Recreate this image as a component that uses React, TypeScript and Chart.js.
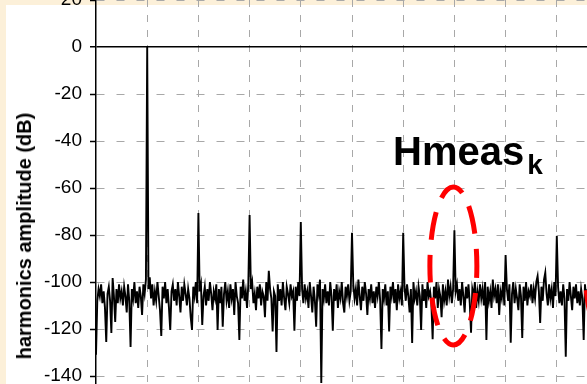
import React, { useEffect, useRef } from 'react';
import { Chart, registerables } from 'chart.js';

Chart.register(...registerables);

// Spectrum bins: harmonic-order spacing between consecutive bins
const BIN_STEP = 0.025;

// Measured amplitude per bin (dB), bins 0..400 (harmonic order 0..10), 20 bins per row
const AMPLITUDE_DB: number[] = [
  -131, -108, -103, -106, -101, -109, -104, -111, -125.5, -105, -102, -108, -121.7, -98.3, -106, -117, -103, -109, -101, -107,
  -104, -110, -102, -106, -113, -101, -108, -127.6, -103, -107, -100, -109, -104, -111, -102, -106, -114, -101, -105, -99,
  0, -103, -98, -107, -101, -110, -104, -108, -100, -106, -112, -123, -102, -107, -100, -109, -103, -111, -120.4, -104,
  -101, -108, -103, -110, -100, -106, -113, -102, -108, -101, -105, -110, -103, -107, -115, -120.4, -102, -106, -100, -109,
  -70.6, -104, -101, -118.3, -106, -102, -110, -103, -108, -100, -105, -112, -104, -107, -101, -120.4, -103, -109, -102, -119,
  -105, -100, -108, -104, -111, -101, -107, -103, -114, -100, -106, -109, -124.7, -102, -107, -99, -108, -104, -111, -101,
  -71.5, -103, -100, -109, -105, -112, -102, -107, -101, -110, -104, -106, -115, -100, -108, -95.2, -103, -107, -121, -104,
  -106, -129.8, -101, -108, -103, -110, -100, -107, -112, -102, -105, -109, -101, -106, -104, -120.7, -102, -108, -100, -106,
  -74.5, -103, -109, -101, -107, -104, -111, -100, -106, -113, -102, -108, -119, -101, -105, -99, -143, -103, -107, -101,
  -109, -104, -110, -100, -106, -120.7, -103, -108, -101, -111, -104, -107, -100, -109, -113, -102, -106, -101, -108, -104,
  -79, -101, -107, -103, -110, -99, -106, -112, -102, -108, -100, -105, -114, -103, -107, -101, -109, -104, -111, -102,
  -106, -100, -108, -128.5, -103, -107, -101, -110, -104, -121, -102, -106, -100, -109, -103, -112, -101, -107, -104, -110,
  -79, -102, -108, -101, -106, -113, -103, -126, -100, -107, -104, -110, -102, -106, -120.4, -101, -108, -103, -111, -100,
  -106, -104, -109, -124.3, -102, -107, -100, -111, -103, -106, -115, -101, -108, -104, -110, -99, -106, -102, -109, -103,
  -78, -104, -101, -108, -103, -110, -100, -106, -113, -102, -107, -101, -109, -121.6, -103, -106, -100, -111, -104, -108,
  -101, -107, -103, -110, -100, -124.7, -102, -108, -104, -111, -99, -106, -103, -109, -101, -114, -104, -107, -100, -110,
  -88.5, -103, -108, -101, -125.8, -105, -100, -109, -103, -107, -112, -101, -106, -123.8, -102, -108, -100, -110, -104, -106,
  -101, -109, -103, -107, -100, -97.5, -104, -117.4, -102, -108, -99, -96, -105, -110, -101, -107, -103, -111, -100, -106,
  -80.4, -102, -109, -104, -110, -101, -107, -131.8, -103, -108, -100, -106, -112, -102, -107, -101, -109, -104, -110, -103,
  -107, -124.7, -101, -108, -103, -110, -100, -106, -104, -109, -101, -107, -112, -103, -106, -100, -109, -104, -108, -102,
  -105,
];

const X_MIN = 0;
const X_MAX = 10;
const X_STEP = 1;
const Y_MIN = -160;
const Y_MAX = 20;
const Y_STEP = 20;

const Y_TITLE = 'harmonics amplitude (dB)';
const ANNOTATION_MAIN = 'Hmeas';
const ANNOTATION_SUB = 'k';

// Dashed ellipse annotations (data units)
const ELLIPSE_CX = [6.98, 10.04];
const ELLIPSE_CY = [-93.2, -93.2];
const ELLIPSE_RX = [0.459, 0.488];
const ELLIPSE_RY = [33.6, 33.6];
const ELLIPSE_DASH = [[28, 15], [30, 80]];
const ELLIPSE_DASH_OFFSET = [16, 100];

const FONT = "'Liberation Sans', Arial, Helvetica, sans-serif";
const BEIGE = '#fcf0d9';

const ellipsePlugin = {
  id: 'ellipses',
  afterDatasetsDraw(chart: any) {
    const { ctx, scales } = chart;
    const xs = scales.x;
    const ys = scales.y;
    ctx.save();
    ctx.strokeStyle = '#ff0000';
    ctx.lineWidth = 5;
    ctx.lineCap = 'butt';
    for (let i = 0; i < ELLIPSE_CX.length; i++) {
      const px = xs.getPixelForValue(ELLIPSE_CX[i]);
      const py = ys.getPixelForValue(ELLIPSE_CY[i]);
      const rx = Math.abs(xs.getPixelForValue(ELLIPSE_CX[i] + ELLIPSE_RX[i]) - px);
      const ry = Math.abs(ys.getPixelForValue(ELLIPSE_CY[i] + ELLIPSE_RY[i]) - py);
      ctx.setLineDash(ELLIPSE_DASH[i]);
      ctx.lineDashOffset = ELLIPSE_DASH_OFFSET[i];
      ctx.beginPath();
      ctx.ellipse(px, py, rx, ry, 0, 0, Math.PI * 2);
      ctx.stroke();
    }
    ctx.restore();
  },
};

export default function App() {
  const ref = useRef<HTMLCanvasElement>(null);

  useEffect(() => {
    document.body.style.margin = '0';
    const points = AMPLITUDE_DB.map((y, i) => ({ x: Math.round(i * BIN_STEP * 1000) / 1000, y }));
    const chart = new Chart(ref.current as HTMLCanvasElement, {
      type: 'line',
      data: {
        datasets: [
          {
            data: points,
            borderColor: '#000',
            borderWidth: 1.9,
            pointRadius: 0,
            tension: 0,
          },
        ],
      },
      options: {
        animation: false,
        responsive: false,
        devicePixelRatio: 1,
        layout: { padding: { top: 30, left: 0, right: 0, bottom: 0 } },
        plugins: { legend: { display: false }, tooltip: { enabled: false } },
        scales: {
          x: {
            type: 'linear',
            min: X_MIN,
            max: X_MAX,
            ticks: { display: false, stepSize: X_STEP },
            grid: {
              color: (c: any) => (c.tick && c.tick.value === 0 ? 'rgba(0,0,0,0)' : '#a8a8a8'),
              lineWidth: 1,
              drawTicks: false,
            },
            border: { display: false, dash: [7, 8] },
            afterFit: (s: any) => {
              s.height = 0;
              s.paddingLeft = 0;
              s.paddingRight = 0;
            },
          },
          y: {
            min: Y_MIN,
            max: Y_MAX,
            ticks: {
              stepSize: Y_STEP,
              color: '#000',
              font: { family: FONT, size: 19 },
              padding: 8,
            },
            grid: {
              color: (c: any) => (c.tick && c.tick.value === 0 ? '#000' : '#a8a8a8'),
              lineWidth: (c: any) => (c.tick && c.tick.value === 0 ? 1.5 : 1),
              tickLength: 6,
              tickColor: '#000',
              tickWidth: 1.5,
              tickBorderDash: [],
            },
            border: {
              display: true,
              color: '#000',
              width: 1.5,
              dash: (c: any) => (c.tick && c.tick.value === 0 ? [] : [8, 12]),
            },
            afterFit: (s: any) => {
              s.width = 96;
              s.paddingTop = 0;
              s.paddingBottom = 0;
            },
          },
        },
      } as any,
      plugins: [ellipsePlugin],
    });
    return () => chart.destroy();
  }, []);

  return (
    <div
      style={{
        position: 'fixed',
        left: 0,
        top: 0,
        width: 587,
        height: 384,
        overflow: 'hidden',
        background: BEIGE,
        fontFamily: FONT,
      }}
    >
      <div style={{ position: 'absolute', left: 6, top: 5, right: 0, bottom: 0, background: '#fff' }} />
      <canvas
        ref={ref}
        width={608}
        height={453}
        style={{ position: 'absolute', left: 0, top: -30, width: 608, height: 453 }}
      />
      <div
        style={{
          position: 'absolute',
          left: 24,
          top: 236,
          transform: 'translate(-50%, -50%) rotate(-90deg)',
          whiteSpace: 'nowrap',
          fontWeight: 'bold',
          fontSize: 20,
          color: '#000',
          lineHeight: '22px',
        }}
      >
        {Y_TITLE}
      </div>
      <div
        style={{
          position: 'absolute',
          left: 393,
          top: 131,
          fontWeight: 'bold',
          fontSize: 40,
          lineHeight: '40px',
          color: '#000',
          whiteSpace: 'nowrap',
        }}
      >
        {ANNOTATION_MAIN}
        <span style={{ fontSize: 28, position: 'relative', top: 9, marginLeft: 3 }}>{ANNOTATION_SUB}</span>
      </div>
    </div>
  );
}
